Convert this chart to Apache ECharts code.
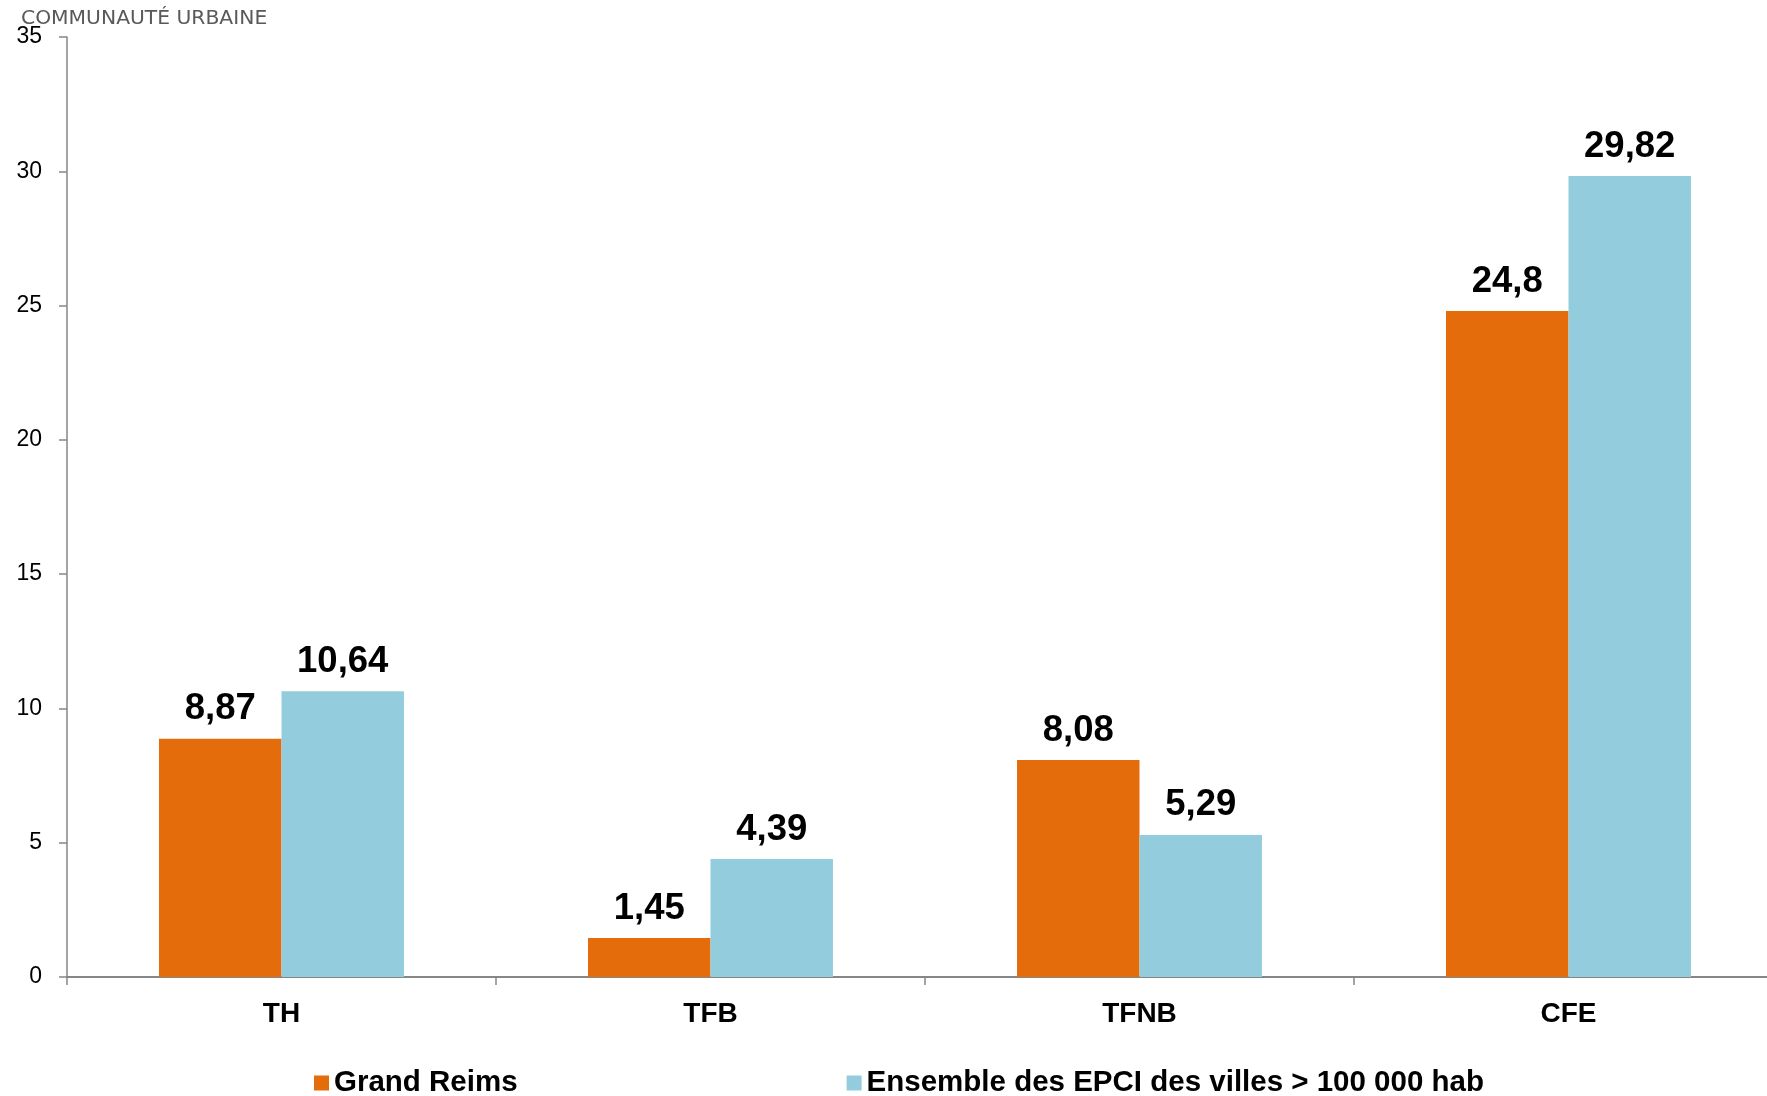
<!DOCTYPE html>
<html>
<head>
<meta charset="utf-8">
<script src="https://cdn.jsdelivr.net/npm/echarts@6/dist/echarts.min.js"></script>
<style>
html,body{margin:0;padding:0;background:#fff;}
#chart{width:1767px;height:1096px;}
</style>
</head>
<body>
<div id="chart"></div>
<script>
const categories = ['TH', 'TFB', 'TFNB', 'CFE'];
const grandReims = [8.87, 1.45, 8.08, 24.8];
const epci = [10.64, 4.39, 5.29, 29.82];
const seriesNames = ['Grand Reims', 'Ensemble des EPCI des villes > 100 000 hab'];
const titleText = 'COMMUNAUTÉ URBAINE';

const chart = echarts.init(document.getElementById('chart'));
const fmt = p => String(p.value).replace('.', ',');
const labelStyle = {
  show: true, position: 'top', distance: 11, formatter: fmt,
  fontFamily: 'Liberation Sans', fontWeight: 'bold', fontSize: 36.5, color: '#000'
};
chart.setOption({
  backgroundColor: '#fff',
  animation: false,
  title: {
    text: titleText, left: 21, top: 9, padding: 0,
    textStyle: { fontFamily: 'DejaVu Sans', fontSize: 20.3, fontWeight: 'normal', color: '#595959' }
  },
  legend: {
    left: 314, top: 1068, itemGap: 329, itemWidth: 15, itemHeight: 15, padding: 0,
    icon: 'rect',
    textStyle: { fontFamily: 'Liberation Sans', fontWeight: 'bold', fontSize: 29.5, color: '#000' }
  },
  grid: { left: 67, width: 1716, top: 37, bottom: 119, containLabel: false, outerBoundsMode: 'none' },
  xAxis: {
    type: 'category', data: categories,
    axisLine: { lineStyle: { color: '#868686', width: 2 } },
    axisTick: { show: true, length: 8, lineStyle: { color: '#868686', width: 1.5 } },
    axisLabel: { margin: 23, fontFamily: 'Liberation Sans', fontWeight: 'bold', fontSize: 28, color: '#000' }
  },
  yAxis: {
    type: 'value', min: 0, max: 35, interval: 5,
    splitLine: { show: false },
    axisLine: { show: true, lineStyle: { color: '#868686', width: 1.5 } },
    axisTick: { show: true, length: 8, lineStyle: { color: '#868686', width: 1.5 } },
    axisLabel: { margin: 25, fontFamily: 'Liberation Sans', fontSize: 23, color: '#000' }
  },
  series: [
    { name: seriesNames[0], type: 'bar', data: grandReims, barGap: '0%', barCategoryGap: '42.9%',
      itemStyle: { color: '#E46C0A' }, label: labelStyle },
    { name: seriesNames[1], type: 'bar', data: epci, barGap: '0%', barCategoryGap: '42.9%',
      itemStyle: { color: '#93CDDD' }, label: labelStyle }
  ]
});
</script>
</body>
</html>
